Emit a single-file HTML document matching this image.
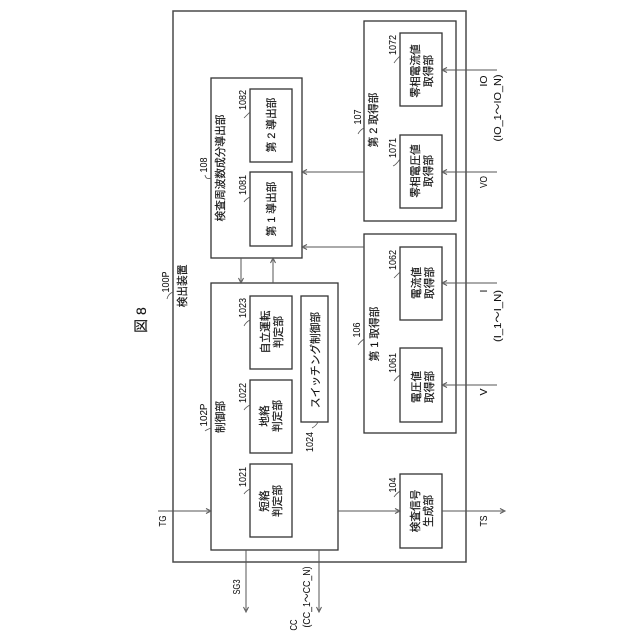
<!DOCTYPE html>
<html><head><meta charset="utf-8"><style>
html,body{margin:0;padding:0;background:#fff}
svg{display:block}
.b{fill:none;stroke:#333;stroke-width:1.3}
.o{fill:none;stroke:#4a4a4a;stroke-width:1.5}
.l{fill:none;stroke:#555;stroke-width:1}
.t{fill:none;stroke:#555;stroke-width:.8}
text{font-family:"Liberation Sans","Noto Sans CJK JP",sans-serif;font-size:10.7px;fill:#111;stroke:#111;stroke-width:.15;text-anchor:middle;dominant-baseline:central}
.n{font-size:10.5px;stroke-width:.05}
</style></head><body>
<svg width="640" height="640" viewBox="0 0 640 640" xmlns="http://www.w3.org/2000/svg">
<defs><marker id="a" markerUnits="userSpaceOnUse" markerWidth="8" markerHeight="8" refX="6.5" refY="4" orient="auto"><path d="M1.5,1.5 L6.5,4 L1.5,6.5" fill="none" stroke="#555" stroke-width="1"/><path d="M3.5,2.8 L6.5,4 L3.5,5.2Z" fill="#777"/></marker></defs>
<rect class="o" x="173" y="11" width="293" height="551"/>
<rect class="b" x="211" y="78" width="91" height="180"/>
<rect class="b" x="250" y="89" width="42" height="73"/>
<rect class="b" x="250" y="172" width="42" height="74"/>
<rect class="b" x="211" y="283" width="127" height="267"/>
<rect class="b" x="250" y="296" width="42" height="73"/>
<rect class="b" x="250" y="380" width="42" height="73"/>
<rect class="b" x="250" y="464" width="42" height="73"/>
<rect class="b" x="301" y="296" width="27" height="126"/>
<rect class="b" x="364" y="21" width="92" height="200"/>
<rect class="b" x="400" y="33" width="42" height="73"/>
<rect class="b" x="400" y="135" width="42" height="73"/>
<rect class="b" x="364" y="234" width="92" height="199"/>
<rect class="b" x="400" y="247" width="42" height="73"/>
<rect class="b" x="400" y="348" width="42" height="74"/>
<rect class="b" x="400" y="474" width="42" height="74"/>

<path class="l" d="M497 70H442" marker-end="url(#a)"/>
<path class="l" d="M497 172H442" marker-end="url(#a)"/>
<path class="l" d="M497 283H442" marker-end="url(#a)"/>
<path class="l" d="M497 385H442" marker-end="url(#a)"/>
<path class="l" d="M364 172H302" marker-end="url(#a)"/>
<path class="l" d="M364 247H302" marker-end="url(#a)"/>
<path class="l" d="M241 258V283" marker-end="url(#a)"/>
<path class="l" d="M273 283V258" marker-end="url(#a)"/>
<path class="l" d="M158 511H211" marker-end="url(#a)"/>
<path class="l" d="M338 511H400" marker-end="url(#a)"/>
<path class="l" d="M442 511H505" marker-end="url(#a)"/>
<path class="l" d="M246 550V612" marker-end="url(#a)"/>
<path class="l" d="M319 550V612" marker-end="url(#a)"/>

<g>
<path class="t" d="M173 292Q168 294 167 299"/>
<path class="t" d="M211 178Q206 180 205 175"/>
<path class="t" d="M250 112Q246 116 244 118"/>
<path class="t" d="M250 197Q246 199 244 202"/>
<path class="t" d="M211 428Q206 430 205 431"/>
<path class="t" d="M250 320Q246 322 244 326"/>
<path class="t" d="M250 405Q246 407 244 410"/>
<path class="t" d="M250 489Q246 491 244 494"/>
<path class="t" d="M318 422Q316 426 312 428"/>
<path class="t" d="M364 128Q360 130 358 134"/>
<path class="t" d="M400 56Q396 60 394 63"/>
<path class="t" d="M400 159Q396 165 393 166"/>
<path class="t" d="M364 339Q360 342 358 345"/>
<path class="t" d="M400 272Q396 276 394 278"/>
<path class="t" d="M400 375Q396 378 394 381"/>
<path class="t" d="M400 491Q396 494 394 497"/>
</g>

<text transform="translate(141,320) rotate(-90)" style="font-size:14px">図 8</text>
<text class="n" transform="translate(166,282) rotate(-90)" textLength="21" lengthAdjust="spacingAndGlyphs">100P</text>
<text transform="translate(183,286) rotate(-90)">検出装置</text>
<text class="n" transform="translate(204,165) rotate(-90)" textLength="15" lengthAdjust="spacingAndGlyphs">108</text>
<text transform="translate(221,168) rotate(-90)">検査周波数成分導出部</text>
<text class="n" transform="translate(243,100) rotate(-90)" textLength="20" lengthAdjust="spacingAndGlyphs">1082</text>
<text transform="translate(272,125) rotate(-90)">第 2 導出部</text>
<text class="n" transform="translate(243,185) rotate(-90)" textLength="20" lengthAdjust="spacingAndGlyphs">1081</text>
<text transform="translate(272,209) rotate(-90)">第 1 導出部</text>

<text class="n" transform="translate(204,415) rotate(-90)" textLength="23" lengthAdjust="spacingAndGlyphs">102P</text>
<text transform="translate(221,417) rotate(-90)">制御部</text>
<text class="n" transform="translate(243,308) rotate(-90)" textLength="20" lengthAdjust="spacingAndGlyphs">1023</text>
<text transform="translate(266,332) rotate(-90)">自立運転</text>
<text transform="translate(279,332) rotate(-90)">判定部</text>
<text class="n" transform="translate(243,393) rotate(-90)" textLength="20" lengthAdjust="spacingAndGlyphs">1022</text>
<text transform="translate(265,416) rotate(-90)">地絡</text>
<text transform="translate(278,416) rotate(-90)">判定部</text>
<text class="n" transform="translate(243,477) rotate(-90)" textLength="20" lengthAdjust="spacingAndGlyphs">1021</text>
<text transform="translate(265,501) rotate(-90)">短絡</text>
<text transform="translate(278,501) rotate(-90)">判定部</text>
<text transform="translate(316,360) rotate(-90)">スイッチング制御部</text>
<text class="n" transform="translate(310,442) rotate(-90)" textLength="20" lengthAdjust="spacingAndGlyphs">1024</text>

<text class="n" transform="translate(358,117) rotate(-90)" textLength="15" lengthAdjust="spacingAndGlyphs">107</text>
<text transform="translate(374,120) rotate(-90)">第 2 取得部</text>
<text class="n" transform="translate(393,45) rotate(-90)" textLength="20" lengthAdjust="spacingAndGlyphs">1072</text>
<text transform="translate(416,71) rotate(-90)">零相電流値</text>
<text transform="translate(429,71) rotate(-90)">取得部</text>
<text class="n" transform="translate(393,148) rotate(-90)" textLength="20" lengthAdjust="spacingAndGlyphs">1071</text>
<text transform="translate(416,171) rotate(-90)">零相電圧値</text>
<text transform="translate(429,171) rotate(-90)">取得部</text>
<text class="n" transform="translate(484,81) rotate(-90)" textLength="11" lengthAdjust="spacingAndGlyphs">IO</text>
<text class="n" transform="translate(498,108) rotate(-90)" textLength="67" lengthAdjust="spacingAndGlyphs">(IO_1〜IO_N)</text>
<text class="n" transform="translate(484,182) rotate(-90)" textLength="12" lengthAdjust="spacingAndGlyphs">VO</text>

<text class="n" transform="translate(357,330) rotate(-90)" textLength="15" lengthAdjust="spacingAndGlyphs">106</text>
<text transform="translate(375,334) rotate(-90)">第 1 取得部</text>
<text class="n" transform="translate(393,260) rotate(-90)" textLength="20" lengthAdjust="spacingAndGlyphs">1062</text>
<text transform="translate(417,283) rotate(-90)">電流値</text>
<text transform="translate(430,283) rotate(-90)">取得部</text>
<text class="n" transform="translate(393,363) rotate(-90)" textLength="20" lengthAdjust="spacingAndGlyphs">1061</text>
<text transform="translate(417,387) rotate(-90)">電圧値</text>
<text transform="translate(430,387) rotate(-90)">取得部</text>
<text class="n" transform="translate(484,291) rotate(-90)">I</text>
<text class="n" transform="translate(498,316) rotate(-90)" textLength="52" lengthAdjust="spacingAndGlyphs">(I_1〜I_N)</text>
<text class="n" transform="translate(484,392) rotate(-90)">V</text>

<text class="n" transform="translate(393,485) rotate(-90)" textLength="15" lengthAdjust="spacingAndGlyphs">104</text>
<text transform="translate(416,511) rotate(-90)">検査信号</text>
<text transform="translate(429,511) rotate(-90)">生成部</text>
<text class="n" transform="translate(163,521) rotate(-90)" textLength="11" lengthAdjust="spacingAndGlyphs">TG</text>
<text class="n" transform="translate(237,587) rotate(-90)" textLength="15" lengthAdjust="spacingAndGlyphs">SG3</text>
<text class="n" transform="translate(294,625) rotate(-90)" textLength="11" lengthAdjust="spacingAndGlyphs">CC</text>
<text class="n" transform="translate(307,597) rotate(-90)" textLength="61" lengthAdjust="spacingAndGlyphs">(CC_1〜CC_N)</text>
<text class="n" transform="translate(484,521) rotate(-90)" textLength="11" lengthAdjust="spacingAndGlyphs">TS</text>
</svg>
</body></html>
